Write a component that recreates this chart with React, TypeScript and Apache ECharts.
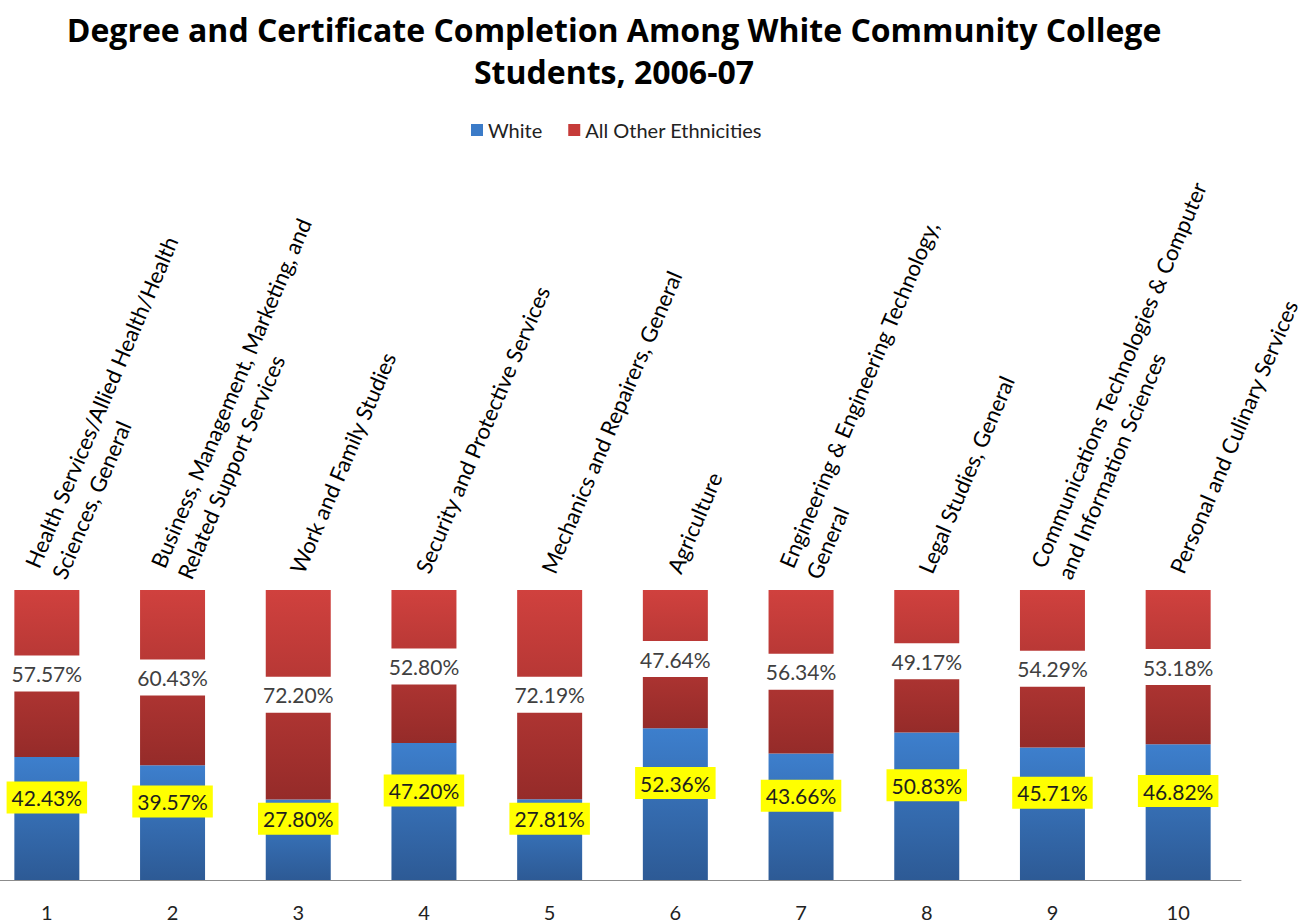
import React, { useEffect, useRef } from "react";
import * as echarts from "echarts";

const categories = ["1", "2", "3", "4", "5", "6", "7", "8", "9", "10"];
const categoryNames = [
  "Health Services/Allied Health/Health\nSciences, General",
  "Business, Management, Marketing, and\nRelated Support Services",
  "Work and Family Studies",
  "Security and Protective Services",
  "Mechanics and Repairers, General",
  "Agriculture",
  "Engineering & Engineering Technology,\nGeneral",
  "Legal Studies, General",
  "Communications Technologies & Computer\nand Information Sciences",
  "Personal and Culinary Services",
];
const whitePct = [42.43, 39.57, 27.8, 47.2, 27.81, 52.36, 43.66, 50.83, 45.71, 46.82];
const otherPct = [57.57, 60.43, 72.2, 52.8, 72.19, 47.64, 56.34, 49.17, 54.29, 53.18];
const seriesNames = ["White", "All Other Ethnicities"];
const titleText =
  "Degree and Certificate Completion Among White Community College\nStudents, 2006-07";

const FONT = "Lato, 'Open Sans', sans-serif";
const TITLE_FONT = "'Open Sans', Lato, sans-serif";

export default function App() {
  const ref = useRef<HTMLDivElement>(null);
  useEffect(() => {
    const chart = echarts.init(ref.current!, null, { renderer: "svg" });
    const blue = new echarts.graphic.LinearGradient(0, 0, 0, 1, [
      { offset: 0, color: "#3d7fcd" },
      { offset: 1, color: "#2d5a95" },
    ]);
    const red = new echarts.graphic.LinearGradient(0, 0, 0, 1, [
      { offset: 0, color: "#d0413e" },
      { offset: 1, color: "#952b29" },
    ]);
    const fmt = (p: any) => Number(p.value).toFixed(2) + "%";
    // div is shifted 24px left of the page; page x = div x - 24
    chart.setOption({
      animation: false,
      backgroundColor: "#ffffff",
      title: {
        text: titleText,
        left: 633,
        top: 3,
        textAlign: "center",
        textStyle: {
          fontFamily: TITLE_FONT,
          fontWeight: "bold",
          fontSize: 32,
          lineHeight: 42,
          color: "#000",
        },
      },
      legend: {
        left: 490,
        top: 115,
        itemWidth: 12,
        itemHeight: 12,
        itemGap: 26,
        icon: "rect",
        data: [
          { name: seriesNames[0], itemStyle: { color: "#3b7bc8" } },
          { name: seriesNames[1], itemStyle: { color: "#c63b39" } },
        ],
        textStyle: { fontFamily: FONT, fontSize: 20, color: "#222" },
      },
      grid: { left: 8, right: 64, top: 590, bottom: 44 },
      xAxis: {
        type: "category",
        data: categories,
        axisLine: { lineStyle: { color: "#8c8c8c", width: 1 } },
        axisTick: { show: false },
        axisLabel: { margin: 22, fontSize: 20, color: "#222", fontFamily: FONT },
      },
      yAxis: { type: "value", min: 0, max: 100, show: false },
      series: [
        {
          name: seriesNames[0],
          type: "bar",
          stack: "total",
          barWidth: 65,
          data: whitePct,
          itemStyle: { color: blue },
          label: {
            show: true,
            position: "inside",
            offset: [0, -21],
            formatter: fmt,
            fontFamily: FONT,
            fontSize: 21,
            color: "#1e1e1e",
            backgroundColor: "#ffff00",
            padding: [6, 5, 5, 5],
          },
        },
        {
          name: seriesNames[1],
          type: "bar",
          stack: "total",
          barWidth: 65,
          data: otherPct,
          itemStyle: { color: red },
          label: {
            show: true,
            position: "inside",
            formatter: fmt,
            fontFamily: FONT,
            fontSize: 21,
            color: "#404040",
            backgroundColor: "#ffffff",
            padding: [8, 3, 7, 3],
          },
        },
      ],
    });
    const topY = chart.convertToPixel({ yAxisIndex: 0 }, 100) as number;
    const graphics = categoryNames.map((name, i) => {
      const x = chart.convertToPixel({ xAxisIndex: 0 }, i) as number;
      return {
        type: "text",
        x: x - 2,
        y: topY - 18,
        rotation: (67 * Math.PI) / 180,
        style: {
          text: name,
          font: `22px ${FONT}`,
          fill: "#000",
          align: "left",
          verticalAlign: "middle",
          lineHeight: 29,
        },
      };
    });
    chart.setOption({ graphic: graphics });
    return () => chart.dispose();
  }, []);
  return (
    <div
      ref={ref}
      style={{ position: "fixed", left: -24, top: 0, width: 1329, height: 924 }}
    />
  );
}
